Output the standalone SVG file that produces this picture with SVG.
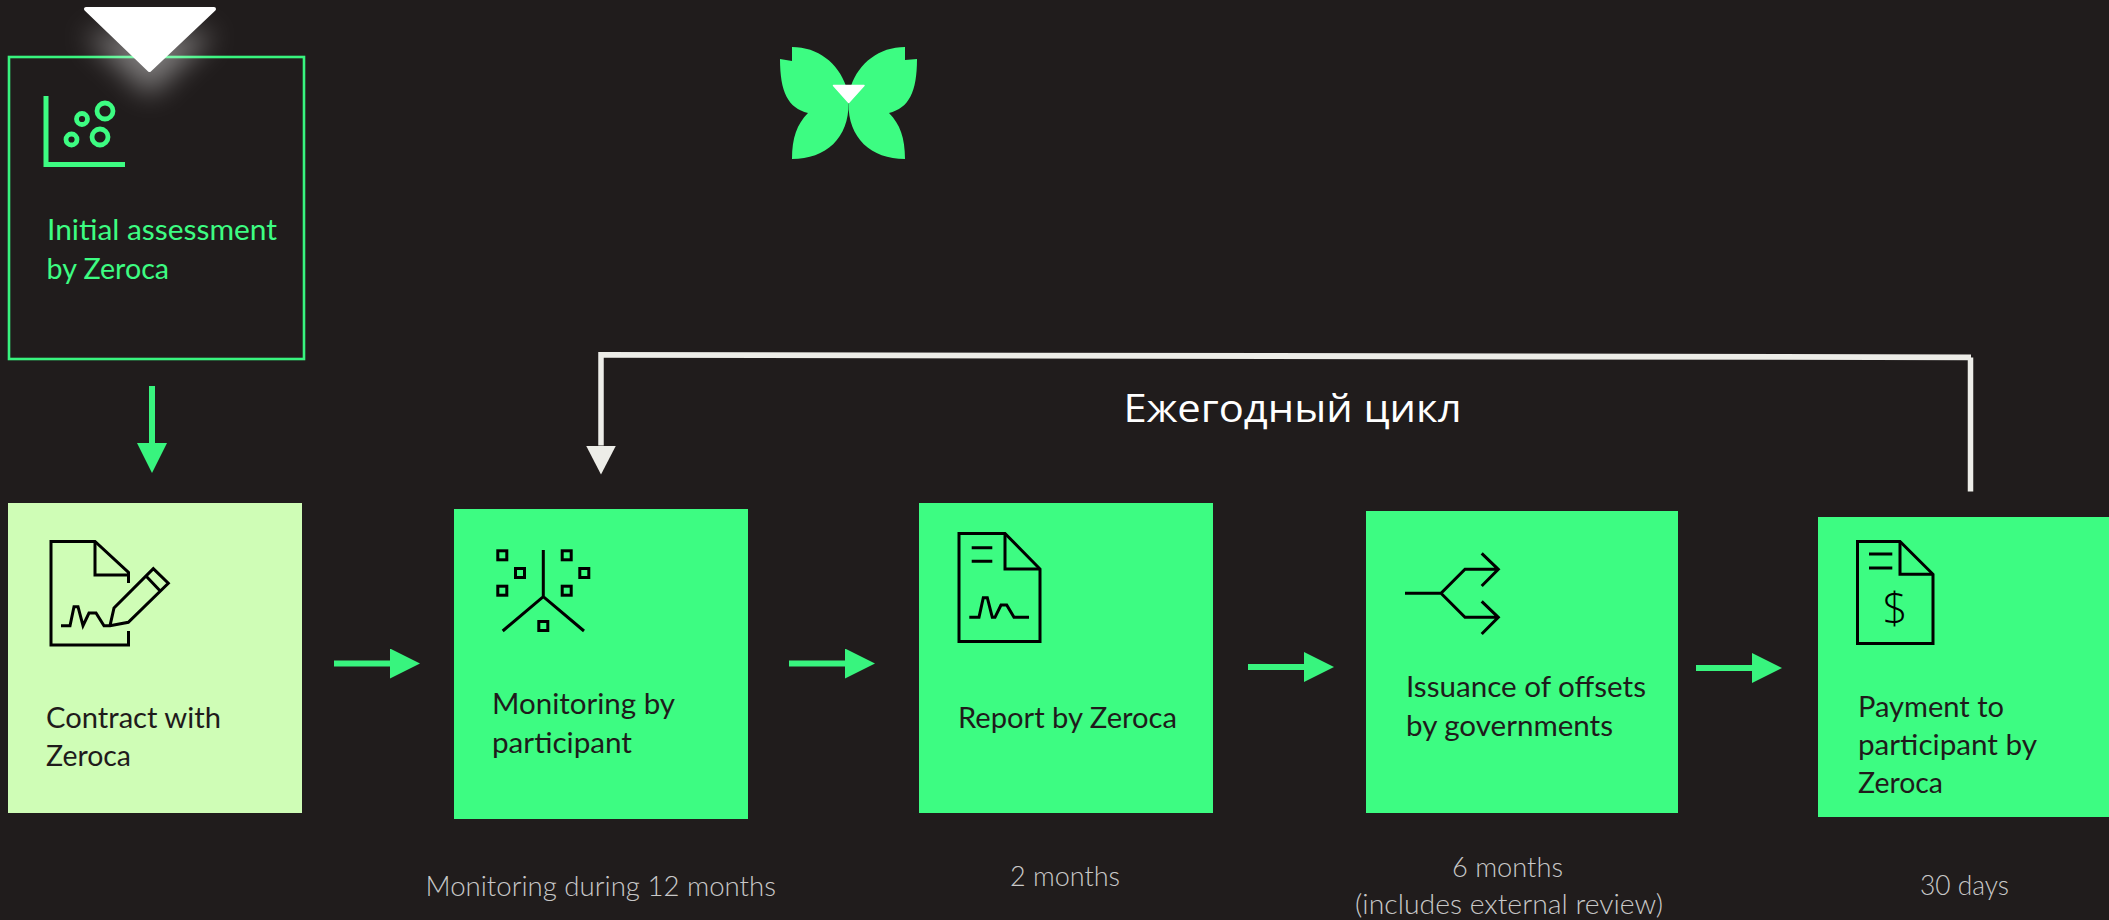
<svg xmlns="http://www.w3.org/2000/svg" width="2109" height="920" viewBox="0 0 2109 920">
<style>
text{font-family:"Lato","Open Sans","Liberation Sans",sans-serif;font-size:28.500px}
.dark{fill:#1f1b1b}
.g{fill:#3dfc82}
.lbl{fill:#c8c8c8;font-size:27px;font-weight:300}
.ic{fill:none;stroke:#000;stroke-width:3;stroke-linejoin:miter}
.box{fill:#3dfc82}
.arr{stroke:#38f47e;stroke-width:6;fill:none;marker-end:url(#ga)}
</style>
<defs>
<marker id="ga" markerUnits="userSpaceOnUse" markerWidth="30" markerHeight="30" refX="0" refY="15" orient="auto"><path d="M0 0L30 15L0 30Z" fill="#38f47e"/></marker>
<marker id="wa" markerUnits="userSpaceOnUse" markerWidth="30" markerHeight="30" refX="0" refY="15" orient="auto"><path d="M0 0L29 15L0 30Z" fill="#edede8"/></marker>
<filter id="glow" x="-60%" y="-60%" width="220%" height="220%"><feGaussianBlur stdDeviation="14"/></filter>
</defs>
<rect width="2109" height="920" fill="#201c1c"/>

<g id="logo">
<path class="g" d="M792 47C818 47 838 63 846 86L848.500 103C849 138 826 159 792 159C792 138 797 124 808 113C788 108 780 92 780 59L792 61Z"/>
<path class="g" d="M905 47C879 47 859 63 851 86L848.500 103C848 138 871 159 905 159C905 138 900 124 889 113C909 108 917 92 917 59L905 60Z"/>
<path d="M833.500 85.500H864L848.700 102.500Z" fill="#fff" stroke="#fff" stroke-width="1.500" stroke-linejoin="round"/>
</g>

<g id="initial-assessment">
<rect x="9" y="57" width="295" height="302" fill="none" stroke="#38f47e" stroke-width="2.600"/>
<path d="M46 96V164.500H125" fill="none" stroke="#3dfc82" stroke-width="5"/>
<g fill="none" stroke="#3dfc82" stroke-width="4.800">
<circle cx="105" cy="111" r="8"/><circle cx="82" cy="119" r="5.500"/><circle cx="100" cy="137" r="8"/><circle cx="71.500" cy="139.500" r="5.500"/>
</g>
<text class="g" x="47" y="240" textLength="230" lengthAdjust="spacingAndGlyphs">Initial assessment</text>
<text class="g" x="46.500" y="279" textLength="122.500" lengthAdjust="spacingAndGlyphs">by Zeroca</text>
</g>

<g id="pointer">
<path d="M84 9H215L149.500 71Z" transform="translate(0 24)" fill="#fff" opacity=".42" filter="url(#glow)"/>
<path d="M86 9H214L149.500 70Z" fill="#fff" stroke="#fff" stroke-width="4" stroke-linejoin="round"/>
</g>

<g id="contract">
<rect x="8" y="503" width="294" height="310" fill="#cffdb6"/>
<path class="ic" d="M128.500 583V572.500L95 541.500H51V645H128.500V631"/>
<path class="ic" d="M95 541.500V575H128.500"/>
<path class="ic" d="M61 625.700H70L74 606.700H78L83 625.700L89 613H96L104 625.700H110L128.300 622.300L168.300 583.300L153.300 568.700L114 608L110 625.700M146 576L160 590.700"/>
<text class="dark" x="46" y="727.500" textLength="175" lengthAdjust="spacingAndGlyphs">Contract with</text>
<text class="dark" x="46" y="765.500" textLength="85" lengthAdjust="spacingAndGlyphs">Zeroca</text>
</g>

<g id="monitoring">
<rect class="box" x="454" y="509" width="294" height="310"/>
<path class="ic" d="M543.300 550V596.700M502.700 631L543.300 596.700L584 631"/>
<g class="ic">
<rect x="497.800" y="550.800" width="9" height="9"/><rect x="515.500" y="568.500" width="9" height="9"/><rect x="497.800" y="586.200" width="9" height="9"/>
<rect x="562.200" y="550.800" width="9" height="9"/><rect x="579.800" y="568.500" width="9" height="9"/><rect x="562.200" y="586.200" width="9" height="9"/>
<rect x="538.800" y="621.500" width="9" height="9"/>
</g>
<text class="dark" x="492" y="714" textLength="183" lengthAdjust="spacingAndGlyphs">Monitoring by</text>
<text class="dark" x="492" y="752.500" textLength="140" lengthAdjust="spacingAndGlyphs">participant</text>
</g>

<g id="report">
<rect class="box" x="919" y="503" width="294" height="310"/>
<path class="ic" d="M959 533.500H1005L1040 569V641.500H959Z"/>
<path class="ic" d="M1005 533.500V569H1040M971.700 547.700H992.300M971.700 561.300H992.300"/>
<path class="ic" d="M969.300 617.300H979L983.300 597.700H987.300L992.300 617.300H995L1001 605H1006.700L1014 617.300H1029"/>
<text class="dark" x="958" y="728" textLength="219" lengthAdjust="spacingAndGlyphs">Report by Zeroca</text>
</g>

<g id="issuance">
<rect class="box" x="1366" y="511" width="312" height="302"/>
<path class="ic" d="M1405 593.300H1441L1465 569.300H1498.300M1441 593.300L1465 617.300H1498.300M1481.700 553.300L1498.300 569.300L1481.700 586M1481.700 601.300L1498.300 617.300L1481.700 634"/>
<text class="dark" x="1406" y="697" textLength="240" lengthAdjust="spacingAndGlyphs">Issuance of offsets</text>
<text class="dark" x="1406" y="736" textLength="207" lengthAdjust="spacingAndGlyphs">by governments</text>
</g>

<g id="payment">
<rect class="box" x="1818" y="517" width="291" height="300"/>
<path class="ic" d="M1857.500 541.500H1900L1933 574.300V643.500H1857.500Z"/>
<path class="ic" d="M1900 541.500V574.300H1933M1869 554H1892.300M1869 568H1892.300"/>
<text x="1895" y="624" text-anchor="middle" style="font-family:'Open Sans','Liberation Sans',sans-serif;font-size:44px;font-weight:300" fill="#000">$</text>
<text class="dark" x="1858" y="717" textLength="146" lengthAdjust="spacingAndGlyphs">Payment to</text>
<text class="dark" x="1858" y="755" textLength="179" lengthAdjust="spacingAndGlyphs">participant by</text>
<text class="dark" x="1858" y="793" textLength="85" lengthAdjust="spacingAndGlyphs">Zeroca</text>
</g>

<g id="connectors">
<path class="arr" d="M152 386V443"/>
<path class="arr" d="M334 663.500H390"/>
<path class="arr" d="M789 663.500H845"/>
<path class="arr" d="M1248 667H1304"/>
<path class="arr" d="M1696 668H1752"/>
<path d="M1970.500 491.500V357.500" fill="none" stroke="#edede8" stroke-width="5.500"/>
<path d="M1971 357.300L601 354.800" fill="none" stroke="#edede8" stroke-width="5.800"/>
<path d="M601 352V445.500" fill="none" stroke="#edede8" stroke-width="5.500" marker-end="url(#wa)"/>
</g>

<g id="labels">
<text x="1123.500" y="422" textLength="338" lengthAdjust="spacingAndGlyphs" style="font-family:'Open Sans','Liberation Sans',sans-serif;font-size:39px" fill="#fff">Ежегодный цикл</text>
<text class="lbl" x="425.500" y="896" textLength="350.500" lengthAdjust="spacingAndGlyphs">Monitoring during 12 months</text>
<text class="lbl" x="1010" y="886" textLength="110" lengthAdjust="spacingAndGlyphs">2 months</text>
<text class="lbl" x="1452" y="877" textLength="111" lengthAdjust="spacingAndGlyphs">6 months</text>
<text class="lbl" x="1355" y="914" textLength="308" lengthAdjust="spacingAndGlyphs">(includes external review)</text>
<text class="lbl" x="1920" y="895" textLength="89" lengthAdjust="spacingAndGlyphs">30 days</text>
</g>
</svg>
